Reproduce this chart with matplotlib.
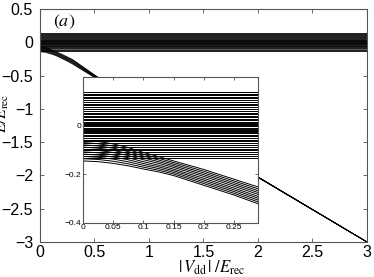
"""Energy levels vs dipolar coupling, with a zoomed inset."""
import matplotlib

matplotlib.use("Agg")
import matplotlib.pyplot as plt
import numpy as np

# Flat levels (E/E_rec)
flat_levels = [
    0.14, 0.132, 0.125, 0.118, 0.112, 0.104, 0.097, 0.09, 0.083, 0.075,
    0.068, 0.06, 0.054, 0.047, 0.04, 0.034, 0.028, 0.022, 0.016, 0.011,
    0.006, 0.002, -0.003, -0.008, -0.012, -0.017, -0.022, -0.027, -0.032,
    -0.038, -0.044, -0.05, -0.057, -0.064, -0.071, -0.078, -0.086, -0.094,
    -0.102, -0.11, -0.118, -0.125, -0.132,
]

# Descending bundle: upper and lower edges sampled at drop_x
drop_x = [0, 0.025, 0.05, 0.075, 0.1, 0.125, 0.15, 0.2, 0.25, 0.3, 0.5, 1.0, 2.0, 3.0]
drop_top = [-0.06, -0.065, -0.075, -0.09, -0.11, -0.127, -0.145, -0.18, -0.22,
            -0.26, -0.49, -1.02, -2.02, -2.995]
drop_bottom = [-0.145, -0.148, -0.155, -0.165, -0.178, -0.19, -0.205, -0.245,
               -0.285, -0.33, -0.53, -1.04, -2.03, -3.0]
# position of each bundle line between the two edges
drop_frac = [0, 0.11, 0.22, 0.33, 0.44, 0.56, 0.67, 0.78, 0.89, 1.0]

x_span = [0, 3]


def draw_levels(ax, lw):
    for level in flat_levels:
        ax.plot(x_span, [level, level], color="k", lw=lw)
    top = np.array(drop_top)
    bottom = np.array(drop_bottom)
    for frac in drop_frac:
        ax.plot(drop_x, top + frac * (bottom - top), color="k", lw=lw)


def style_axes(ax, size):
    for spine in ax.spines.values():
        spine.set_color("#555555")
        spine.set_linewidth(0.8)
    ax.tick_params(direction="in", top=True, right=True, labelsize=size,
                   length=3, width=0.6, color="#555555", pad=2)


plt.rcParams["font.family"] = ["Liberation Sans", "DejaVu Sans"]
plt.rcParams["mathtext.fontset"] = "stix"

fig = plt.figure(figsize=(3.74, 2.77), dpi=100)
ax = fig.add_axes([0.107, 0.126, 0.874, 0.842])
draw_levels(ax, 0.45)
ax.set_xlim(0, 3)
ax.set_ylim(-3, 0.5)
ax.set_xticks([0, 0.5, 1, 1.5, 2, 2.5, 3])
ax.set_xticklabels(["0", "0.5", "1", "1.5", "2", "2.5", "3"])
ax.set_yticks([0.5, 0, -0.5, -1, -1.5, -2, -2.5, -3])
ax.set_yticklabels(["0.5", "0", "\u22120.5", "\u22121", "\u22121.5", "\u22122",
                    "\u22122.5", "\u22123"])
style_axes(ax, 11.5)
ax.tick_params(axis="y", pad=5)
ax.set_xlabel(r"$|\,V_{\rm dd}\,|\;/E_{\rm rec}$", fontsize=12, labelpad=0)
ax.xaxis.set_label_coords(0.525, -0.07)
ax.set_ylabel(r"$E/E_{\rm rec}$", fontsize=11.5)
ax.yaxis.set_label_coords(-0.088, 0.55)
ax.text(0.04, 0.985, r"$(a)$", transform=ax.transAxes, fontsize=13,
        va="top", ha="left")

inset = fig.add_axes([0.222, 0.195, 0.468, 0.527])
draw_levels(inset, 0.7)
inset.set_xlim(0, 0.29)
inset.set_ylim(-0.4, 0.2)
inset.set_xticks([0, 0.05, 0.1, 0.15, 0.2, 0.25])
inset.set_xticklabels(["0", "0.05", "0.1", "0.15", "0.2", "0.25"])
inset.set_yticks([-0.4, -0.2, 0])
inset.set_yticklabels(["\u22120.4", "\u22120.2", "0"])
style_axes(inset, 6)
inset.tick_params(length=2, pad=1)

fig.savefig("out.png", dpi=100)
